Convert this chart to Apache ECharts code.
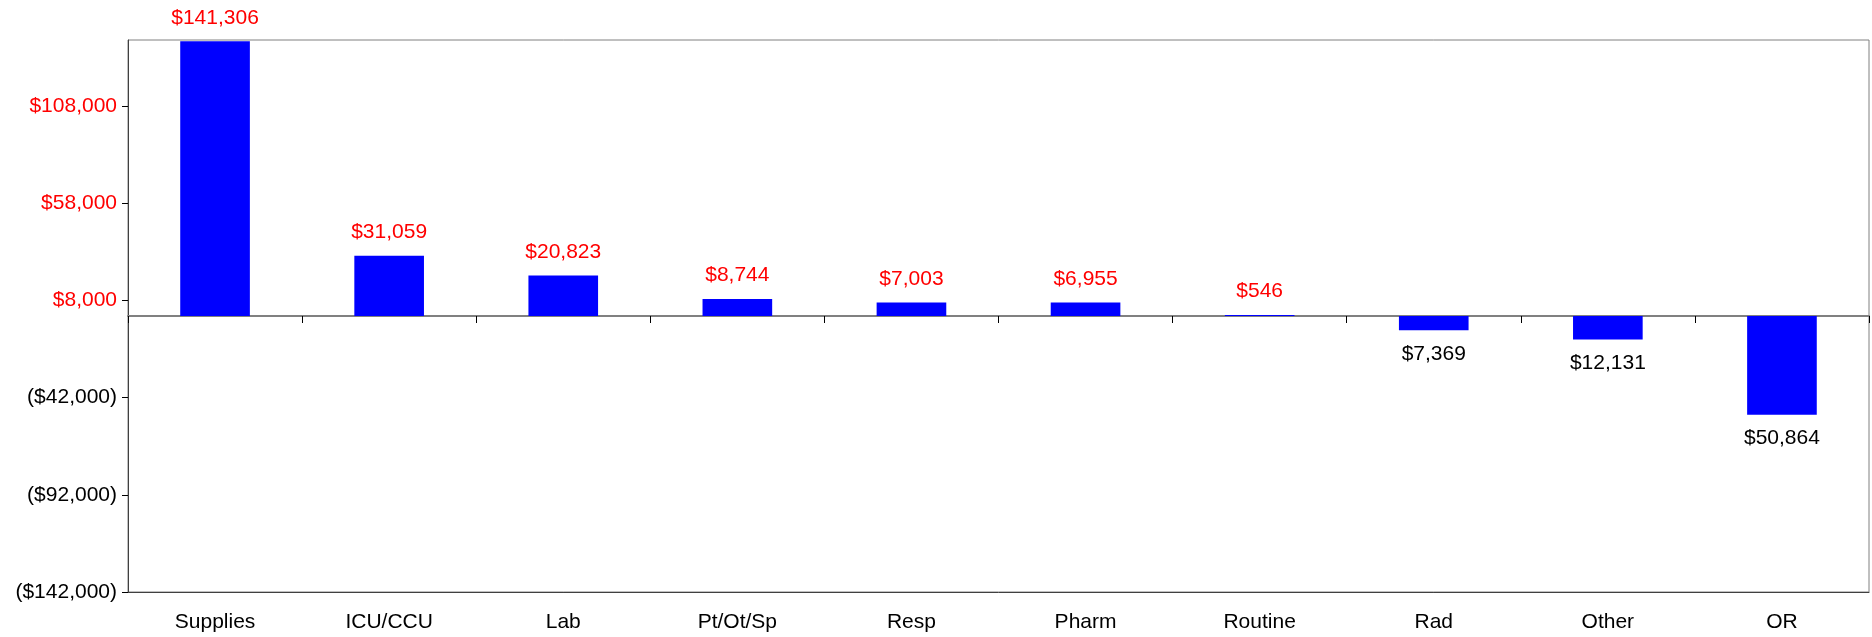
<!DOCTYPE html>
<html>
<head>
<meta charset="utf-8">
<script src="https://cdn.jsdelivr.net/npm/echarts@6/dist/echarts.min.js"></script>
<style>
  html, body { margin: 0; padding: 0; background: #fff; }
  #chart { width: 1872px; height: 637px; }
</style>
</head>
<body>
<div id="chart"></div>
<script>
// Variance by department
const categories = ['Supplies', 'ICU/CCU', 'Lab', 'Pt/Ot/Sp', 'Resp', 'Pharm', 'Routine', 'Rad', 'Other', 'OR'];
const variances = [141306, 31059, 20823, 8744, 7003, 6955, 546, -7369, -12131, -50864];
const yTicks = [-142000, -92000, -42000, 8000, 58000, 108000];
const yMin = -142000;
const yMax = 142000;

const FONT = '"Liberation Sans", Arial, sans-serif';

function money(v) {
  return '$' + Math.abs(v).toLocaleString('en-US');
}
function axisMoney(v) {
  return v < 0 ? '(' + money(v) + ')' : money(v);
}

const chart = echarts.init(document.getElementById('chart'), null, { renderer: 'canvas' });

chart.setOption({
  animation: false,
  backgroundColor: '#ffffff',
  grid: {
    left: 128, right: 3, top: 40, bottom: 45,
    show: true, borderColor: '#808080', borderWidth: 1
  },
  xAxis: [
    {
      type: 'category',
      data: categories,
      position: 'bottom',
      axisLine: { show: true, onZero: false, lineStyle: { color: '#404040', width: 1 } },
      axisTick: { show: false },
      axisLabel: { fontFamily: FONT, fontSize: 21, color: '#000', margin: 20 }
    },
    {
      // zero line with category dividers
      type: 'category',
      data: categories,
      position: 'bottom',
      axisLine: { show: true, onZero: true, lineStyle: { color: '#808080', width: 2 } },
      axisTick: { show: true, length: 7, lineStyle: { color: '#000', width: 1 } },
      axisLabel: { show: false }
    }
  ],
  yAxis: {
    type: 'value',
    min: yMin,
    max: yMax,
    axisLine: { show: true, lineStyle: { color: '#404040', width: 1 } },
    axisTick: { show: true, length: 6, customValues: yTicks, lineStyle: { color: '#000' } },
    splitLine: { show: false },
    axisLabel: {
      customValues: yTicks,
      fontFamily: FONT,
      fontSize: 21,
      margin: 11,
      formatter: axisMoney,
      color: function (v) { return Number(v) < 0 ? '#000000' : '#ff0000'; }
    }
  },
  series: [{
    type: 'bar',
    xAxisIndex: 0,
    yAxisIndex: 0,
    barWidth: '40%',
    data: variances.map(v => ({
      value: v,
      label: {
        position: v < 0 ? 'bottom' : 'top',
        color: v < 0 ? '#000000' : '#ff0000'
      }
    })),
    itemStyle: { color: '#0000ff' },
    label: {
      show: true,
      distance: 13,
      fontFamily: FONT,
      fontSize: 21,
      formatter: p => money(p.value)
    }
  }]
});
</script>
</body>
</html>
